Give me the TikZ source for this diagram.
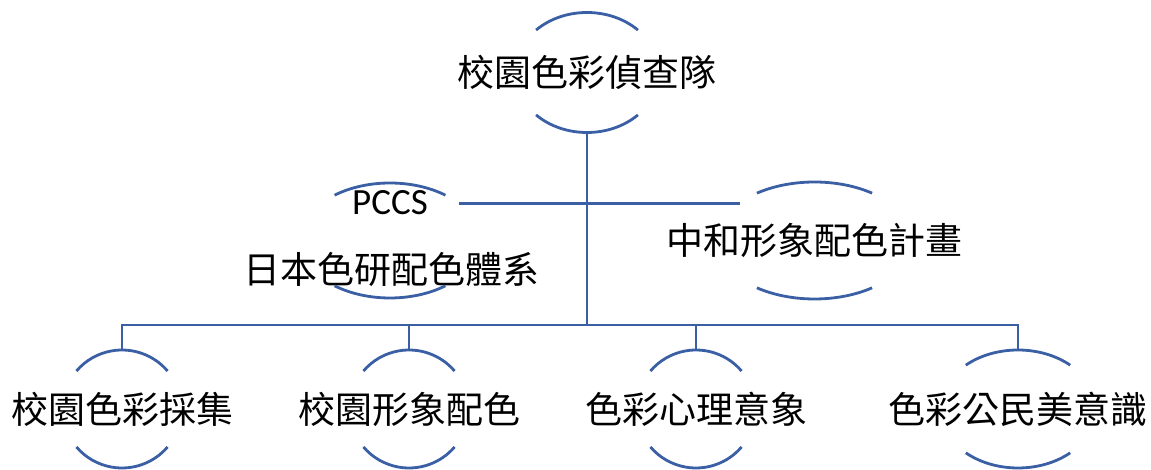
\documentclass[tikz,border=0pt]{standalone}
\usepackage{fontspec}
\setmainfont{Noto Sans CJK TC}
\newfontfamily\latinfont{Carlito}
\usetikzlibrary{shapes.geometric}
\definecolor{linkblue}{RGB}{58,95,165}

\begin{document}
\begin{tikzpicture}[x=1pt,y=1pt,
	oval/.style={ellipse,draw=none,inner sep=0pt,outer sep=0pt},
	link/.style={draw=linkblue,line width=2.8pt},
	rim/.style={draw=linkblue,line width=2.8pt},
	every label/.style={font=\fontsize{37}{44}\selectfont,inner sep=0pt}]
	\useasboundingbox (0,0) rectangle (1151,470);
	\node[oval,minimum width=144pt,minimum height=120pt,label={center:校園色彩偵查隊}] (team) at (587,397.5) {};
	\node[oval,minimum width=180pt,minimum height=115pt,label={[yshift=37.5pt]center:{\latinfont PCCS}},label={[yshift=-28.5pt,xshift=1pt]center:日本色研配色體系}] (pccs) at (390,229.5) {};
	\node[oval,minimum width=196pt,minimum height=117pt,label={center:中和形象配色計畫}] (plan) at (814.5,229.5) {};
	\node[oval,minimum width=119pt,minimum height=118pt,label={center:校園色彩採集}] (collect) at (122,61) {};
	\node[oval,minimum width=119pt,minimum height=118pt,label={center:校園形象配色}] (match) at (409,61) {};
	\node[oval,minimum width=119pt,minimum height=118pt,label={center:色彩心理意象}] (mood) at (696,61) {};
	\node[oval,minimum width=156pt,minimum height=118pt,label={center:色彩公民美意識}] (civic) at (1018,61) {};
	\coordinate (bus) at (587,145);
	% arcs above and below each oval
	\foreach \n/\a/\b/\t in {team/72/60/45,pccs/90/57.5/52,plan/98/58.5/54,collect/59.5/59/40,match/59.5/59/40,mood/59.5/59/40,civic/78/59/48}{
		\draw[rim] ([shift={(\t:\a pt and \b pt)}]\n.center) arc[start angle=\t,end angle=180-\t,x radius=\a pt,y radius=\b pt];
		\draw[rim] ([shift={(-\t:\a pt and \b pt)}]\n.center) arc[start angle=-\t,end angle=\t-180,x radius=\a pt,y radius=\b pt];
	}
	\draw[link] (team.south) -- (bus);
	\draw[link] (pccs.28.8) -- (plan.153.5 |- pccs.28.8);
	\draw[link] (collect.north) -- (collect.north |- bus) -- (civic.north |- bus) -- (civic.north);
	\foreach \n in {match,mood}
		\draw[link] (\n.north) -- (\n.north |- bus);
\end{tikzpicture}
\end{document}
